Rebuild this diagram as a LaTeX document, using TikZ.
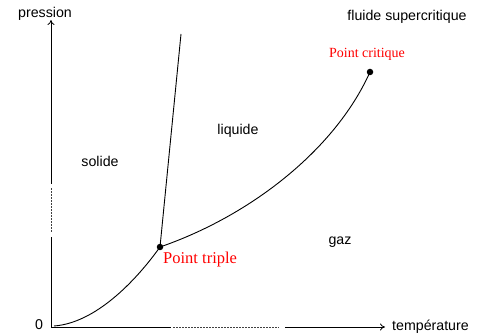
\documentclass[tikz,border=0pt]{standalone}
\usepackage{fontspec}
\setmainfont{Liberation Sans}
\newfontfamily\serifred{Liberation Serif}
\usetikzlibrary{arrows.meta}
\begin{document}
\begin{tikzpicture}[x=1pt,y=-1pt,
  lbl/.style={font=\fontsize{14.2}{15}\selectfont, inner sep=0pt},
  redlbl/.style={font=\serifred\fontsize{14}{15}\selectfont, text=red, inner sep=0pt},
  axis/.style={line width=0.8pt},
  dsh/.style={line width=1pt, dash pattern=on 2pt off 1pt, black!75},
  curve/.style={line width=0.9pt},
  pt/.style={circle, fill=black, inner sep=0pt, minimum size=6.5pt}]
\useasboundingbox (0,0) rectangle (481,336);
% axis points
\coordinate (O) at (51,327);
\coordinate (ytop) at (51,20);
\coordinate (ya) at (51,184);
\coordinate (yb) at (51,188);
\coordinate (yc) at (51,232);
\coordinate (yd) at (51,237);
\coordinate (xa) at (171,327);
\coordinate (xb) at (173,327);
\coordinate (xc) at (279,327);
\coordinate (xd) at (285,327);
\coordinate (xend) at (385,327);
% vertical axis
\draw[axis] (O) -- (yd);
\draw[dsh] (yc) -- (yb);
\draw[axis, -{To[length=5pt,width=7pt]}] (ya) -- (ytop);
% horizontal axis
\draw[axis] (O) -- (xa);
\draw[dsh] (xb) -- (xc);
\draw[axis, -{To[length=5pt,width=7pt]}] (xd) -- (xend);
% labels
\node[lbl] (p) at (45,14) {pression};
\node[lbl, anchor=west] (t) at (392,327) {température};
\node[lbl] (zero) at (39,325) {0};
\node[lbl] (fs) at (407,17) {fluide supercritique};
\node[lbl] (liq) at (238,131) {liquide};
\node[lbl] (sol) at (100,161) {solide};
\node[lbl] (gaz) at (340,242) {gaz};
% points
\node[pt] (T) at (160,247) {};
\node[pt] (C) at (370,72) {};
\coordinate (S0) at (54,326);
\coordinate (F) at (181,34);
% curves
\draw[curve] (S0) .. controls (95,323) and (135,282) .. (T.center);
\draw[curve] (T.center) -- (F);
\draw[curve] (T.center) .. controls (250,216) and (335,150) .. (C.center);
\node[redlbl, anchor=west, font=\serifred\fontsize{16.5}{17}\selectfont] (pt3) at (163,260) {Point triple};
\node[redlbl] (pc) at (367,54) {Point critique};
\end{tikzpicture}
\end{document}
